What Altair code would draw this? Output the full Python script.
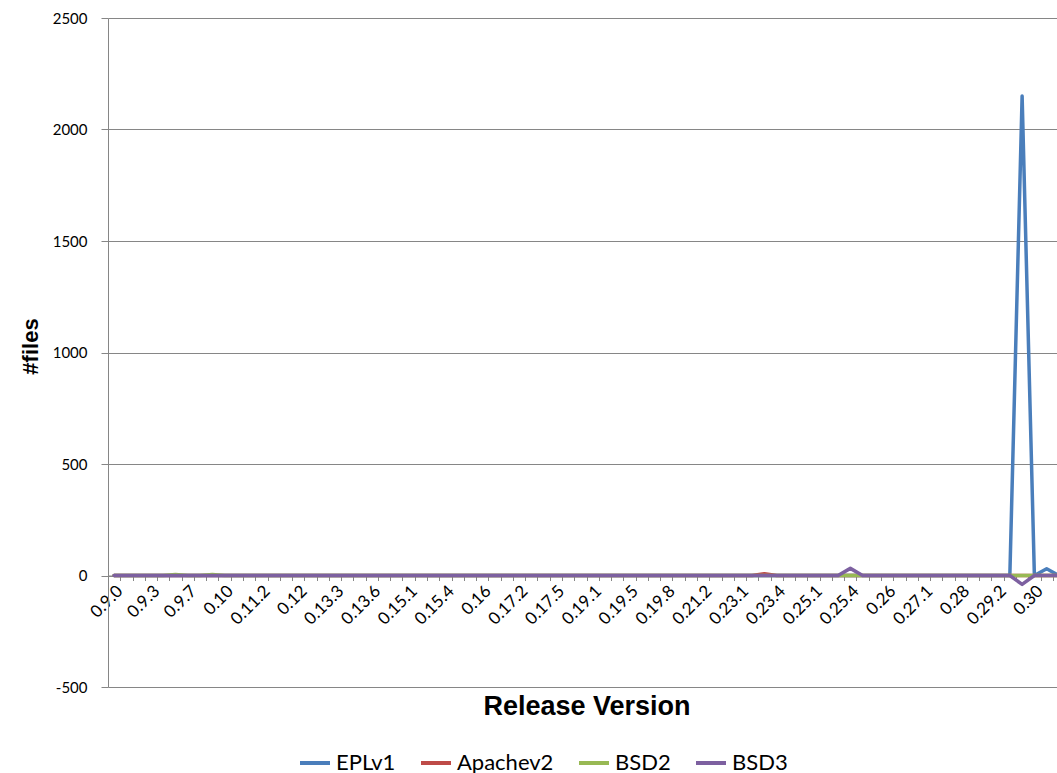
import json
import altair as alt
import pandas as pd

# Release versions along the x axis (every third one is labelled)
releases = [
    "0.9.0", "0.9.1", "0.9.2", "0.9.3", "0.9.4", "0.9.5", "0.9.7", "0.9.8", "0.9.9", "0.10",
    "0.10.1", "0.11", "0.11.2", "0.11.3", "0.11.4", "0.12", "0.13.1", "0.13.2", "0.13.3", "0.13.4",
    "0.13.5", "0.13.6", "0.14", "0.15", "0.15.1", "0.15.2", "0.15.3", "0.15.4", "0.15.5", "0.15.6",
    "0.16", "0.17", "0.17.1", "0.17.2", "0.17.3", "0.17.4", "0.17.5", "0.18", "0.19", "0.19.1",
    "0.19.2", "0.19.4", "0.19.5", "0.19.6", "0.19.7", "0.19.8", "0.20", "0.21.1", "0.21.2", "0.22",
    "0.23", "0.23.1", "0.23.2", "0.23.3", "0.23.4", "0.24", "0.25", "0.25.1", "0.25.2", "0.25.3",
    "0.25.4", "0.25.5", "0.25.6", "0.26", "0.26.1", "0.27", "0.27.1", "0.27.2", "0.27.3", "0.28",
    "0.29", "0.29.1", "0.29.2", "0.29.3", "0.29.4", "0.30", "0.30.1", "0.30.2",
]

shown_labels = [
    "0.9.0", "0.9.3", "0.9.7", "0.10", "0.11.2", "0.12", "0.13.3", "0.13.6", "0.15.1", "0.15.4",
    "0.16", "0.17.2", "0.17.5", "0.19.1", "0.19.5", "0.19.8", "0.21.2", "0.23.1", "0.23.4", "0.25.1",
    "0.25.4", "0.26", "0.27.1", "0.28", "0.29.2", "0.30",
]

licenses = ["EPLv1", "Apachev2", "BSD2", "BSD3"]
colors = ["#4A7EBB", "#BE4B48", "#98B954", "#7D60A0"]

# Number of files per license in each release
eplv1 = [
    0, 0, 0, 0, 0, 0, 0, 0, 0, 0,
    0, 0, 0, 0, 0, 0, 0, 0, 0, 0,
    0, 0, 0, 0, 0, 0, 0, 0, 0, 0,
    0, 0, 0, 0, 0, 0, 0, 0, 0, 0,
    0, 0, 0, 0, 0, 0, 0, 0, 0, 0,
    0, 0, 0, 0, 0, 0, 0, 0, 0, 0,
    0, 0, 0, 0, 0, 0, 0, 0, 0, 0,
    0, 0, 0, 0, 2150, 0, 30, 0,
]
apachev2 = [
    0, 0, 0, 0, 0, 0, 0, 0, 0, 0,
    0, 0, 0, 0, 0, 0, 0, 0, 0, 0,
    0, 0, 0, 0, 0, 0, 0, 0, 0, 0,
    0, 0, 0, 0, 0, 0, 0, 0, 0, 0,
    0, 0, 0, 0, 0, 0, 0, 0, 0, 0,
    0, 0, 0, 8, 0, 0, 0, 0, 0, 0,
    0, 0, 0, 0, 0, 0, 0, 0, 0, 0,
    0, 0, 0, 0, 0, 0, 0, 0,
]
bsd2 = [
    0, 0, 0, 0, 0, 4, 0, 0, 4, 0,
    0, 0, 0, 0, 0, 0, 0, 0, 0, 0,
    0, 0, 0, 0, 0, 0, 0, 0, 0, 0,
    0, 0, 0, 0, 0, 0, 0, 0, 0, 0,
    0, 0, 0, 0, 0, 0, 0, 0, 0, 0,
    0, 0, 0, 0, 0, 0, 0, 0, 0, 0,
    0, 0, 0, 0, 0, 0, 0, 0, 0, 0,
    0, 0, 0, 0, 0, 0, 0, 0,
]
bsd3 = [
    0, 0, 0, 0, 0, 0, 0, 0, 0, 0,
    0, 0, 0, 0, 0, 0, 0, 0, 0, 0,
    0, 0, 0, 0, 0, 0, 0, 0, 0, 0,
    0, 0, 0, 0, 0, 0, 0, 0, 0, 0,
    0, 0, 0, 0, 0, 0, 0, 0, 0, 0,
    0, 0, 0, 0, 0, 0, 0, 0, 0, 0,
    32, 0, 0, 0, 0, 0, 0, 0, 0, 0,
    0, 0, 0, 0, -40, 0, 0, 0,
]

series = {"EPLv1": eplv1, "Apachev2": apachev2, "BSD2": bsd2, "BSD3": bsd3}

rows = []
for name, values in series.items():
    for rel, v in zip(releases, values):
        rows.append({"release": rel, "files": v, "license": name})
df = pd.DataFrame(rows)

GRAY = "#868686"
STEP = 12.27
label_expr = "indexof(" + json.dumps(shown_labels) + ", datum.value) >= 0 ? datum.value : ''"

x_enc = alt.X(
    "release:O",
    sort=releases,
    scale=alt.Scale(type="band", paddingInner=0, paddingOuter=0,
                    range=[0, round(STEP * len(releases), 2)]),
    axis=alt.Axis(
        title="Release Version",
        titleFont="Liberation Sans", titleFontWeight="bold", titleFontSize=27,
        titleColor="black", titleBaseline="alphabetic", titleY=139,
        offset=-111.5, tickBand="extent", tickSize=5, tickColor=GRAY,
        domainColor=GRAY, grid=False,
        labelAngle=-45, labelAlign="right", labelBaseline="top",
        labelPadding=2, labelFont="Lato", labelFontSize=17, labelColor="black",
        labelOverlap=False, labelExpr=label_expr,
    ),
)

y_enc = alt.Y(
    "files:Q",
    scale=alt.Scale(domain=[-500, 2500], nice=False, zero=False),
    axis=alt.Axis(
        title="#files",
        titleFont="Liberation Sans", titleFontWeight="bold", titleFontSize=22,
        titleColor="black", titleAngle=-90, titleAlign="center", titleBaseline="middle",
        titleX=-78, titleY=328,
        values=[-500, 0, 500, 1000, 1500, 2000, 2500],
        labelExpr="'' + datum.value",
        grid=True, gridColor=GRAY, gridWidth=1,
        domainColor=GRAY, tickColor=GRAY, tickSize=7,
        labelPadding=14, labelFont="Lato", labelFontSize=15, labelColor="black",
    ),
)

color_enc = alt.Color(
    "license:N",
    scale=alt.Scale(domain=licenses, range=colors),
    legend=alt.Legend(
        title=None, orient="none", direction="horizontal",
        legendX=190, legendY=728,
        symbolType="stroke", symbolSize=900, symbolStrokeWidth=4,
        labelFont="Lato", labelFontSize=22, labelColor="black",
        labelOffset=4, columnPadding=17,
    ),
)

layers = []
for name in licenses:
    layers.append(
        alt.Chart(df)
        .transform_filter(alt.datum.license == name)
        .mark_line(strokeWidth=3.5, strokeJoin="round", strokeCap="round")
        .encode(x=x_enc, y=y_enc, color=color_enc)
    )

chart = (
    alt.layer(*layers)
    .properties(
        width=949, height=669,
        autosize=alt.AutoSizeParams(type="none"),
        padding={"left": 108, "top": 18, "right": 0, "bottom": 86},
        background="white",
    )
    .configure_view(stroke=None)
)

chart.save("out.html", embed_options={"renderer": "svg", "actions": False})
